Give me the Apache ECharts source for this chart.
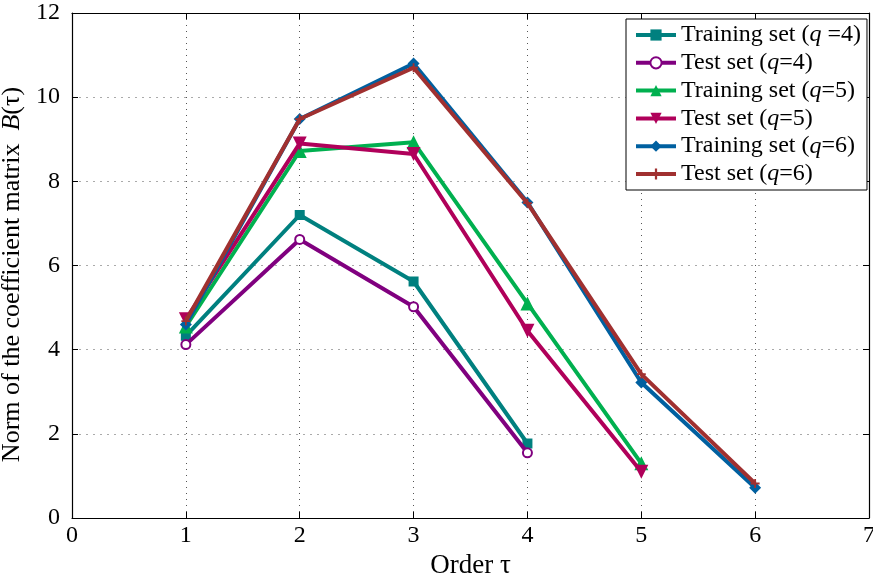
<!DOCTYPE html>
<html>
<head>
<meta charset="utf-8">
<script src="https://cdn.jsdelivr.net/npm/echarts@6/dist/echarts.min.js"></script>
<style>
  html, body { margin: 0; padding: 0; background: #fff; }
  #chart { width: 873px; height: 574px; }
</style>
</head>
<body>
<div id="chart"></div>
<script>
// Orders tau on the x axis
const orders = [1, 2, 3, 4, 5, 6];

// Norm of the coefficient matrix B(tau) per model
const trainQ4 = [4.33, 7.20, 5.62, 1.77];
const testQ4  = [4.12, 6.62, 5.02, 1.55];
const trainQ5 = [4.55, 8.72, 8.93, 5.10, 1.30];
const testQ5  = [4.72, 8.90, 8.65, 4.45, 1.10];
const trainQ6 = [4.60, 9.48, 10.80, 7.50, 3.22, 0.72];
const testQ6  = [4.68, 9.48, 10.70, 7.48, 3.42, 0.82];

const seriesNames = [
  'Training set (q =4)', 'Test set (q=4)',
  'Training set (q=5)', 'Test set (q=5)',
  'Training set (q=6)', 'Test set (q=6)'
];
const seriesValues = [trainQ4, testQ4, trainQ5, testQ5, trainQ6, testQ6];
const colors = ['#00807f', '#80007f', '#00b04f', '#b0005a', '#0060a0', '#a03030'];

const FONT = '"Liberation Serif", "Times New Roman", serif';
const plusPath = 'path://M4,0h2v4h4v2h-4v4h-2v-4h-4v-2h4z';

const markers = [
  { symbol: 'rect', size: 10, rotate: 0 },
  { symbol: 'emptyCircle', size: 9, rotate: 0 },
  { symbol: 'triangle', size: 14, rotate: 0 },
  { symbol: 'triangle', size: 14, rotate: 180 },
  { symbol: 'diamond', size: 12, rotate: 0 },
  { symbol: plusPath, size: 9, rotate: 0 }
];

const series = seriesNames.map((name, k) => ({
  name: name,
  type: 'line',
  data: seriesValues[k].map((v, i) => [orders[i], v]),
  symbol: markers[k].symbol,
  symbolSize: markers[k].size,
  symbolRotate: markers[k].rotate,
  color: colors[k],
  lineStyle: { width: 4, color: colors[k] },
  itemStyle: { color: colors[k], borderWidth: k === 1 ? 3.5 : 0 },
  emphasis: { disabled: true },
  animation: false,
  z: 2 + k
}));

// Italic "q" in the legend entries
function legendLabel(name) {
  const idx = name.indexOf('q');
  return '{n|' + name.slice(0, idx) + '}{i|q}{n|' + name.slice(idx + 1) + '}';
}

const chart = echarts.init(document.getElementById('chart'), null, { renderer: 'canvas' });

const axisLine = { show: true, onZero: false, lineStyle: { color: '#000', width: 1.2 } };
const tickIn = { show: true, inside: true, length: 6, lineStyle: { color: '#000' } };

chart.setOption({
  backgroundColor: '#ffffff',
  animation: false,
  grid: { left: 72, right: 4, top: 13, bottom: 56, containLabel: false, outerBoundsMode: 'none' },
  legend: {
    orient: 'vertical',
    left: 626,
    top: 19,
    padding: [4, 6, 4, 8],
    itemWidth: 40,
    itemHeight: 14,
    itemGap: 3.8,
    backgroundColor: '#ffffff',
    borderColor: '#000',
    borderWidth: 1,
    borderRadius: 0,
    lineStyle: { width: 4 },
    data: seriesNames,
    formatter: legendLabel,
    textStyle: {
      fontFamily: FONT,
      fontSize: 24,
      color: '#000',
      rich: {
        n: { fontFamily: FONT, fontSize: 24, color: '#000', lineHeight: 24 },
        i: { fontFamily: FONT, fontSize: 24, color: '#000', fontStyle: 'italic', lineHeight: 24 }
      }
    }
  },
  xAxis: [
    {
      type: 'value',
      min: 0, max: 7, interval: 1,
      name: 'Order τ',
      nameLocation: 'middle',
      nameGap: 30,
      nameTextStyle: { fontFamily: FONT, fontSize: 27, color: '#000' },
      axisLine: axisLine,
      axisTick: tickIn,
      axisLabel: { fontFamily: FONT, fontSize: 24, color: '#000', margin: 6 },
      splitLine: { show: true, lineStyle: { type: [1, 5], color: '#555', width: 1 } }
    },
    {
      type: 'value', position: 'top',
      min: 0, max: 7, interval: 1,
      axisLine: axisLine,
      axisTick: tickIn,
      axisLabel: { show: false },
      splitLine: { show: false }
    }
  ],
  yAxis: [
    {
      type: 'value',
      min: 0, max: 12, interval: 2,
      name: '{n|Norm of the coefficient matrix  }{i|B}{n|(τ)}',
      nameLocation: 'middle',
      nameGap: 27,
      nameRotate: 90,
      nameTextStyle: {
        fontFamily: FONT, fontSize: 26, color: '#000',
        padding: [0, 18, 0, 0],
        rich: {
          n: { fontFamily: FONT, fontSize: 26, color: '#000' },
          i: { fontFamily: FONT, fontSize: 26, color: '#000', fontStyle: 'italic' }
        }
      },
      axisLine: axisLine,
      axisTick: tickIn,
      axisLabel: { fontFamily: FONT, fontSize: 24, color: '#000', margin: 12 },
      splitLine: { show: true, lineStyle: { type: [2, 5], color: '#aaa', width: 1 } }
    },
    {
      type: 'value', position: 'right',
      min: 0, max: 12, interval: 2,
      axisLine: axisLine,
      axisTick: tickIn,
      axisLabel: { show: false },
      splitLine: { show: false }
    }
  ],
  series: series
});
</script>
</body>
</html>
